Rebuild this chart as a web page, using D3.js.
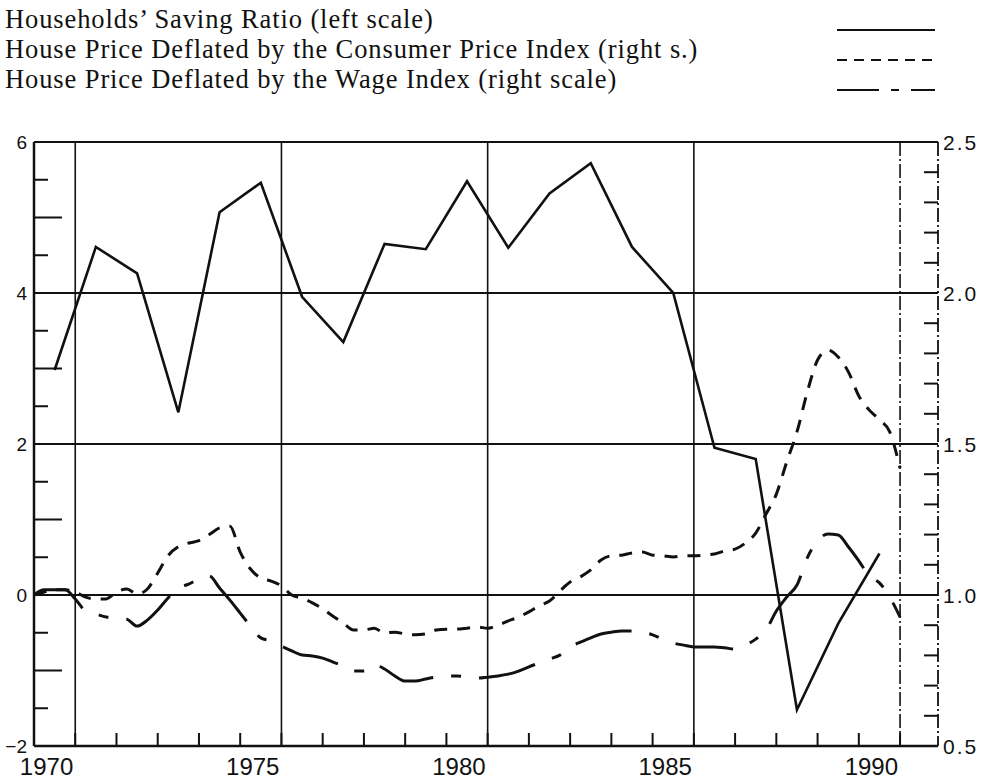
<!DOCTYPE html>
<html>
<head>
<meta charset="utf-8">
<script src="https://cdn.jsdelivr.net/npm/d3@7"></script>
<style>
body { margin: 0; background: #fff; }
</style>
</head>
<body>
<script>
// households' saving ratio, annual (left scale)
var savingYears = [1970, 1971, 1972, 1973, 1974, 1975, 1976, 1977, 1978, 1979, 1980,
                   1981, 1982, 1983, 1984, 1985, 1986, 1987, 1988, 1989, 1990];
var savingRatio = [2.98, 4.61, 4.26, 2.42, 5.07, 5.46, 3.95, 3.35, 4.65, 4.58, 5.48,
                   4.60, 5.32, 5.72, 4.61, 4.00, 1.95, 1.80, -1.52, -0.38, 0.55];

// house prices, quarterly from 1970 Q1 (right scale)
var firstQuarter = 1970;
var priceByCPI = [
  1.00, 1.01, 1.017, 1.017,   1.01, 0.993, 0.987, 0.987,   1.01, 1.02, 1.003, 1.02,
  1.073, 1.13, 1.16, 1.172,   1.18, 1.20, 1.222, 1.228,    1.142, 1.086, 1.056, 1.046,
  1.03, 1.00, 0.99, 0.974,    0.954, 0.93, 0.907, 0.884,   0.884, 0.89, 0.874, 0.877,
  0.871, 0.868, 0.871, 0.884, 0.887, 0.887, 0.89, 0.894,   0.89, 0.90, 0.914, 0.927,
  0.944, 0.964, 0.98, 1.013,  1.043, 1.06, 1.083, 1.116,   1.13, 1.132, 1.139, 1.142,
  1.132, 1.13, 1.126, 1.13,   1.13, 1.132, 1.136, 1.146,   1.152, 1.172, 1.205, 1.268,
  1.334, 1.44, 1.54, 1.672,   1.778, 1.811, 1.788, 1.738,  1.659, 1.613, 1.58, 1.54,
  1.42];
var priceByWage = [
  1.00, 1.017, 1.017, 1.017,  0.987, 0.947, 0.937, 0.927,  0.924, 0.92, 0.897, 0.917,
  0.95, 0.99, 1.023, 1.036,   1.053, 1.063, 1.023, 0.983,  0.94, 0.897, 0.858, 0.848,
  0.831, 0.815, 0.801, 0.798, 0.791, 0.778, 0.765, 0.748,  0.748, 0.77, 0.755, 0.732,
  0.715, 0.715, 0.722, 0.728, 0.732, 0.732, 0.728, 0.725,  0.728, 0.732, 0.738, 0.748,
  0.762, 0.775, 0.788, 0.801, 0.828, 0.844, 0.858, 0.871,  0.877, 0.881, 0.881, 0.877,
  0.868, 0.854, 0.841, 0.834, 0.828, 0.828, 0.828, 0.825,  0.821, 0.834, 0.854, 0.884,
  0.947, 0.993, 1.033, 1.123, 1.179, 1.202, 1.199, 1.159,  1.113, 1.063, 1.04, 0.993,
  0.927];

var leftLabels = [-2, 0, 2, 4, 6];
var rightLabels = [0.5, 1.0, 1.5, 2.0, 2.5];
var yearLabels = [1970, 1975, 1980, 1985, 1990];
var gridYears = [1971, 1976, 1981, 1986, 1991];
var legendNames = [
  "Households\u2019 Saving Ratio (left scale)",
  "House Price Deflated by the Consumer Price Index (right s.)",
  "House Price Deflated by the Wage Index (right scale)"
];

var width = 988, height = 781;
var plot = { left: 34, right: 938, top: 142, bottom: 746 };

var x = d3.scaleLinear().domain([1970, 1991.92]).range([plot.left, plot.right]);
var yL = d3.scaleLinear().domain([-2, 6]).range([plot.bottom, plot.top]);
var yR = d3.scaleLinear().domain([0.5, 2.5]).range([plot.bottom, plot.top]);

var svg = d3.select("body").append("svg")
  .attr("width", width)
  .attr("height", height);

var ink = "#111";
var tickFont = "'Liberation Sans', Arial, sans-serif";

// legend
var legend = svg.append("g");
var legendY = [28, 58, 88];
var legendDash = [null, "10,7", "42,12,8,12,30"];
legend.selectAll("text")
  .data(legendNames)
  .enter().append("text")
  .attr("x", 5)
  .attr("y", function (d, i) { return legendY[i]; })
  .attr("font-family", "'Liberation Serif', 'Times New Roman', serif")
  .attr("font-size", 26.5)
  .attr("letter-spacing", 0.9)
  .attr("fill", ink)
  .text(function (d) { return d; });
legend.selectAll("line")
  .data(legendNames)
  .enter().append("line")
  .attr("x1", 837).attr("x2", 935)
  .attr("y1", function (d, i) { return legendY[i] + 2; })
  .attr("y2", function (d, i) { return legendY[i] + 2; })
  .attr("stroke", ink)
  .attr("stroke-width", 2.2)
  .attr("stroke-dasharray", function (d, i) { return legendDash[i]; });

// grid lines
svg.selectAll(".hgrid")
  .data([0, 2, 4])
  .enter().append("line")
  .attr("class", "hgrid")
  .attr("x1", plot.left).attr("x2", plot.right)
  .attr("y1", function (d) { return yL(d); })
  .attr("y2", function (d) { return yL(d); })
  .attr("stroke", ink).attr("stroke-width", 2);

svg.selectAll(".vgrid")
  .data(gridYears)
  .enter().append("line")
  .attr("class", "vgrid")
  .attr("x1", function (d) { return x(d); })
  .attr("x2", function (d) { return x(d); })
  .attr("y1", plot.top).attr("y2", plot.bottom)
  .attr("stroke", ink).attr("stroke-width", 1.6)
  .attr("stroke-dasharray", function (d) { return d === 1991 ? "14,3,2,3" : null; });

// frame
svg.append("line")
  .attr("x1", plot.left).attr("x2", plot.right)
  .attr("y1", plot.top).attr("y2", plot.top)
  .attr("stroke", ink).attr("stroke-width", 2);
svg.append("line")
  .attr("x1", plot.left).attr("x2", plot.right)
  .attr("y1", plot.bottom).attr("y2", plot.bottom)
  .attr("stroke", ink).attr("stroke-width", 2.5);
svg.append("line")
  .attr("x1", plot.left).attr("x2", plot.left)
  .attr("y1", plot.top).attr("y2", plot.bottom)
  .attr("stroke", ink).attr("stroke-width", 2.5);
svg.append("line")
  .attr("x1", plot.right).attr("x2", plot.right)
  .attr("y1", plot.top).attr("y2", plot.bottom)
  .attr("stroke", ink).attr("stroke-width", 1.8)
  .attr("stroke-dasharray", "14,3,2,3");

// left ticks every 0.5, longer at odd integers
var leftMinor = d3.range(-1.5, 6, 0.5).filter(function (v) { return v % 2 !== 0; });
svg.selectAll(".ltick")
  .data(leftMinor)
  .enter().append("line")
  .attr("class", "ltick")
  .attr("x1", plot.left)
  .attr("x2", function (d) { return plot.left + (Number.isInteger(d) ? 28 : 14); })
  .attr("y1", function (d) { return yL(d); })
  .attr("y2", function (d) { return yL(d); })
  .attr("stroke", ink).attr("stroke-width", 2);

// right ticks every 0.1
var rightMinor = d3.range(6, 25).map(function (v) { return v / 10; });
svg.selectAll(".rtick")
  .data(rightMinor)
  .enter().append("line")
  .attr("class", "rtick")
  .attr("x1", plot.right - 14).attr("x2", plot.right)
  .attr("y1", function (d) { return yR(d); })
  .attr("y2", function (d) { return yR(d); })
  .attr("stroke", ink).attr("stroke-width", 2);

// bottom ticks every year
svg.selectAll(".btick")
  .data(d3.range(1971, 1992))
  .enter().append("line")
  .attr("class", "btick")
  .attr("x1", function (d) { return x(d); })
  .attr("x2", function (d) { return x(d); })
  .attr("y1", plot.bottom).attr("y2", plot.bottom - 13)
  .attr("stroke", ink).attr("stroke-width", 2);

// tick labels
svg.selectAll(".llab")
  .data(leftLabels)
  .enter().append("text")
  .attr("class", "llab")
  .attr("x", 27)
  .attr("y", function (d) { return yL(d); })
  .attr("dy", "0.36em")
  .attr("text-anchor", "end")
  .attr("font-family", tickFont).attr("font-size", 19).attr("fill", ink)
  .text(function (d) { return d < 0 ? "\u2212" + Math.abs(d) : d; });

svg.selectAll(".rlab")
  .data(rightLabels)
  .enter().append("text")
  .attr("class", "rlab")
  .attr("x", 943)
  .attr("y", function (d) { return yR(d); })
  .attr("dy", "0.36em")
  .attr("font-family", tickFont).attr("font-size", 21).attr("fill", ink)
  .attr("letter-spacing", 2)
  .text(function (d) { return d3.format(".1f")(d); });

svg.selectAll(".xlab")
  .data(yearLabels)
  .enter().append("text")
  .attr("class", "xlab")
  .attr("x", function (d) { return x(d + 1) - 2; })
  .attr("y", 775)
  .attr("text-anchor", "end")
  .attr("font-family", tickFont).attr("font-size", 24).attr("fill", ink)
  .text(function (d) { return d; });

// series
var savingLine = d3.line()
  .x(function (d, i) { return x(savingYears[i] + 0.5); })
  .y(function (d) { return yL(d); });

var priceLine = d3.line()
  .x(function (d, i) { return x(firstQuarter + i / 4); })
  .y(function (d) { return yR(d); })
  .curve(d3.curveMonotoneX);

svg.append("path")
  .datum(savingRatio)
  .attr("d", savingLine)
  .attr("fill", "none")
  .attr("stroke", ink).attr("stroke-width", 2.6)
  .attr("stroke-linejoin", "miter");

svg.append("path")
  .datum(priceByCPI)
  .attr("d", priceLine)
  .attr("fill", "none")
  .attr("stroke", ink).attr("stroke-width", 3)
  .attr("stroke-dasharray", "13,10");

svg.append("path")
  .datum(priceByWage)
  .attr("d", priceLine)
  .attr("fill", "none")
  .attr("stroke", ink).attr("stroke-width", 3)
  .attr("stroke-dasharray", "58,18,10,18");
</script>
</body>
</html>
